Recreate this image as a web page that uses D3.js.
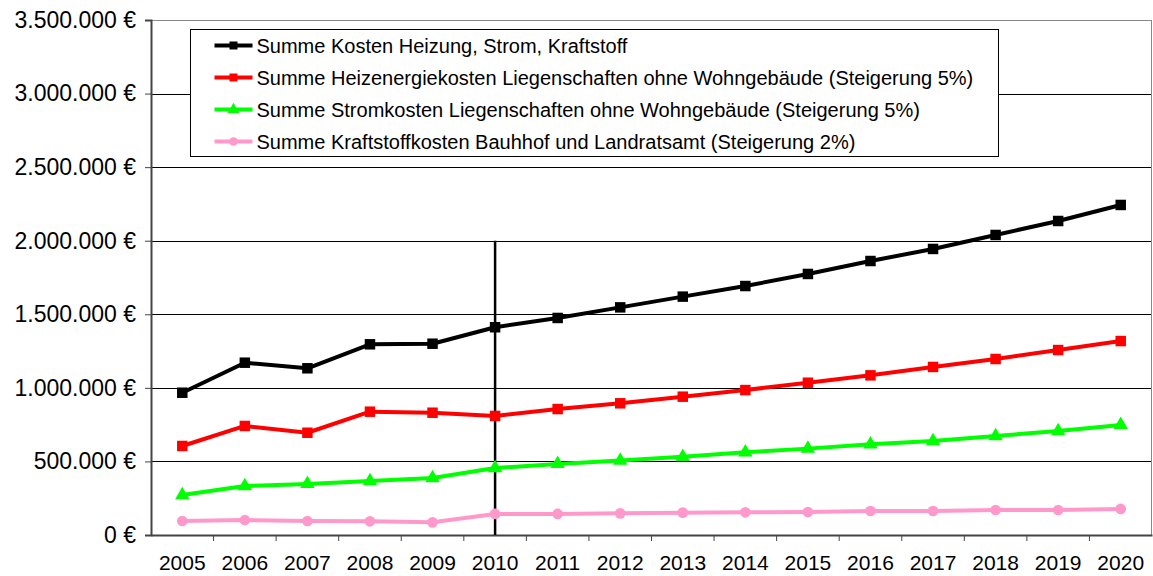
<!DOCTYPE html>
<html>
<head>
<meta charset="utf-8">
<script src="https://cdn.jsdelivr.net/npm/d3@7"></script>
<style>
  body { margin: 0; background: #fff; }
  svg { display: block; font-family: "Liberation Sans", Arial, sans-serif; }
</style>
</head>
<body>
<div id="chart"></div>
<script>
var years = ["2005","2006","2007","2008","2009","2010","2011","2012","2013","2014","2015","2016","2017","2018","2019","2020"];

var totalCosts   = [967000, 1171000, 1133000, 1296000, 1300000, 1412000, 1475000, 1547000, 1620000, 1692000, 1774000, 1862000, 1944000, 2039000, 2134000, 2243000];
var heatingCosts = [605000, 741000, 695000, 838000, 831000, 809000, 856000, 895000, 940000, 985000, 1035000, 1085000, 1142000, 1196000, 1257000, 1318000];
var powerCosts   = [272000, 333000, 347000, 367000, 387000, 455000, 483000, 506000, 532000, 562000, 587000, 616000, 639000, 673000, 707000, 748000];
var fuelCosts    = [95000, 102000, 95000, 93000, 86000, 143000, 143000, 147000, 152000, 154000, 156000, 163000, 163000, 170000, 170000, 177000];

var yTicks = [0, 500000, 1000000, 1500000, 2000000, 2500000, 3000000, 3500000];
var markerYear = "2010";

var seriesNames = [
  "Summe Kosten Heizung, Strom, Kraftstoff",
  "Summe Heizenergiekosten Liegenschaften ohne Wohngebäude (Steigerung 5%)",
  "Summe Stromkosten Liegenschaften ohne Wohngebäude (Steigerung 5%)",
  "Summe Kraftstoffkosten Bauhhof und Landratsamt (Steigerung 2%)"
];

var series = [
  { name: seriesNames[0], values: totalCosts,   color: "#000000", symbol: "square" },
  { name: seriesNames[1], values: heatingCosts, color: "#ff0000", symbol: "square" },
  { name: seriesNames[2], values: powerCosts,   color: "#00ff00", symbol: "triangle" },
  { name: seriesNames[3], values: fuelCosts,    color: "#ff99cc", symbol: "circle" }
];

var width = 1153,
    height = 576,
    margins = { top: 20, right: 1, bottom: 41, left: 151 };

var svg = d3.select('#chart').append('svg')
  .attr('width', width)
  .attr('height', height);

var xScale = d3.scaleBand()
  .domain(years)
  .range([margins.left, width - margins.right]);

var yScale = d3.scaleLinear()
  .domain([0, 3500000])
  .range([height - margins.bottom, margins.top]);

var fmt = function(d) {
  return d3.format(",")(d).replace(/,/g, ".") + " €";
};

// gridlines
svg.append('g')
  .selectAll('line')
  .data(yTicks.slice(1))
  .enter().append('line')
  .attr('x1', margins.left)
  .attr('x2', width - margins.right)
  .attr('y1', function(d) { return Math.round(yScale(d)) + 0.5; })
  .attr('y2', function(d) { return Math.round(yScale(d)) + 0.5; })
  .attr('stroke', function(d) { return d == 3500000 ? '#888' : '#000'; })
  .attr('stroke-width', 1);

// right frame
svg.append('line')
  .attr('x1', width - margins.right - 0.5).attr('x2', width - margins.right - 0.5)
  .attr('y1', margins.top).attr('y2', height - margins.bottom)
  .attr('stroke', '#888');

// y axis
var yAxis = d3.axisLeft(yScale).tickValues(yTicks).tickFormat(fmt).tickSize(6).tickPadding(9);
var gy = svg.append('g')
  .attr('transform', 'translate(' + margins.left + ',0)')
  .call(yAxis);
gy.select('.domain').attr('stroke', '#444').attr('stroke-width', 2);
gy.selectAll('.tick line').attr('stroke', '#444');
gy.selectAll('text').attr('font-size', 23).attr('fill', '#000')
  .attr('font-family', '"Liberation Sans", Arial, sans-serif');

// x axis, ticks between the categories
var xAxis = d3.axisBottom(xScale).tickSize(0).tickPadding(20);
var gx = svg.append('g')
  .attr('transform', 'translate(0,' + (height - margins.bottom) + ')')
  .call(xAxis);
gx.select('.domain').attr('stroke', '#444').attr('stroke-width', 2);
gx.selectAll('text').attr('font-size', 21).attr('fill', '#000')
  .attr('font-family', '"Liberation Sans", Arial, sans-serif');
gx.selectAll('.sep')
  .data(years.slice(1))
  .enter().append('line')
  .attr('x1', function(d) { return xScale(d); })
  .attr('x2', function(d) { return xScale(d); })
  .attr('y1', 0).attr('y2', 6)
  .attr('stroke', '#444');

// vertical marker line at 2010
var cx = function(d) { return xScale(d) + xScale.bandwidth() / 2; };
svg.append('line')
  .attr('x1', cx(markerYear)).attr('x2', cx(markerYear))
  .attr('y1', yScale(2000000)).attr('y2', yScale(0))
  .attr('stroke', '#000').attr('stroke-width', 2.5);

var line = d3.line()
  .x(function(d, i) { return cx(years[i]); })
  .y(function(d) { return yScale(d); });

var symbolFor = function(s) {
  if (s == 'square') return d3.symbol().type(d3.symbolSquare).size(110);
  if (s == 'triangle') return d3.symbol().type(d3.symbolTriangle).size(90);
  return d3.symbol().type(d3.symbolCircle).size(90);
};

series.slice().reverse().forEach(function(s) {
  svg.append('path')
    .attr('d', line(s.values))
    .attr('stroke', s.color)
    .attr('stroke-width', 4)
    .attr('stroke-linejoin', 'round')
    .attr('fill', 'none');

  svg.append('g').selectAll('path')
    .data(s.values)
    .enter().append('path')
    .attr('transform', function(d, i) { return 'translate(' + cx(years[i]) + ',' + yScale(d) + ')'; })
    .attr('d', symbolFor(s.symbol)())
    .attr('fill', s.color);
});

// legend
var legend = svg.append('g').attr('transform', 'translate(190.5,29.5)');
legend.append('rect')
  .attr('width', 808).attr('height', 127)
  .attr('fill', '#fff').attr('stroke', '#000').attr('stroke-width', 1);

var items = legend.selectAll('.item')
  .data(series)
  .enter().append('g')
  .attr('transform', function(d, i) { return 'translate(0,' + (16 + i * 32) + ')'; });

items.append('line')
  .attr('x1', 24).attr('x2', 62)
  .attr('stroke', function(d) { return d.color; })
  .attr('stroke-width', 4);
items.append('path')
  .attr('transform', 'translate(43,0)')
  .attr('d', function(d) {
    if (d.symbol == 'square') return d3.symbol().type(d3.symbolSquare).size(64)();
    if (d.symbol == 'triangle') return d3.symbol().type(d3.symbolTriangle).size(60)();
    return d3.symbol().type(d3.symbolCircle).size(60)();
  })
  .attr('fill', function(d) { return d.color; });
items.append('text')
  .attr('x', 66)
  .attr('dy', '0.35em')
  .attr('font-size', 20)
  .text(function(d) { return d.name; });
</script>
</body>
</html>
